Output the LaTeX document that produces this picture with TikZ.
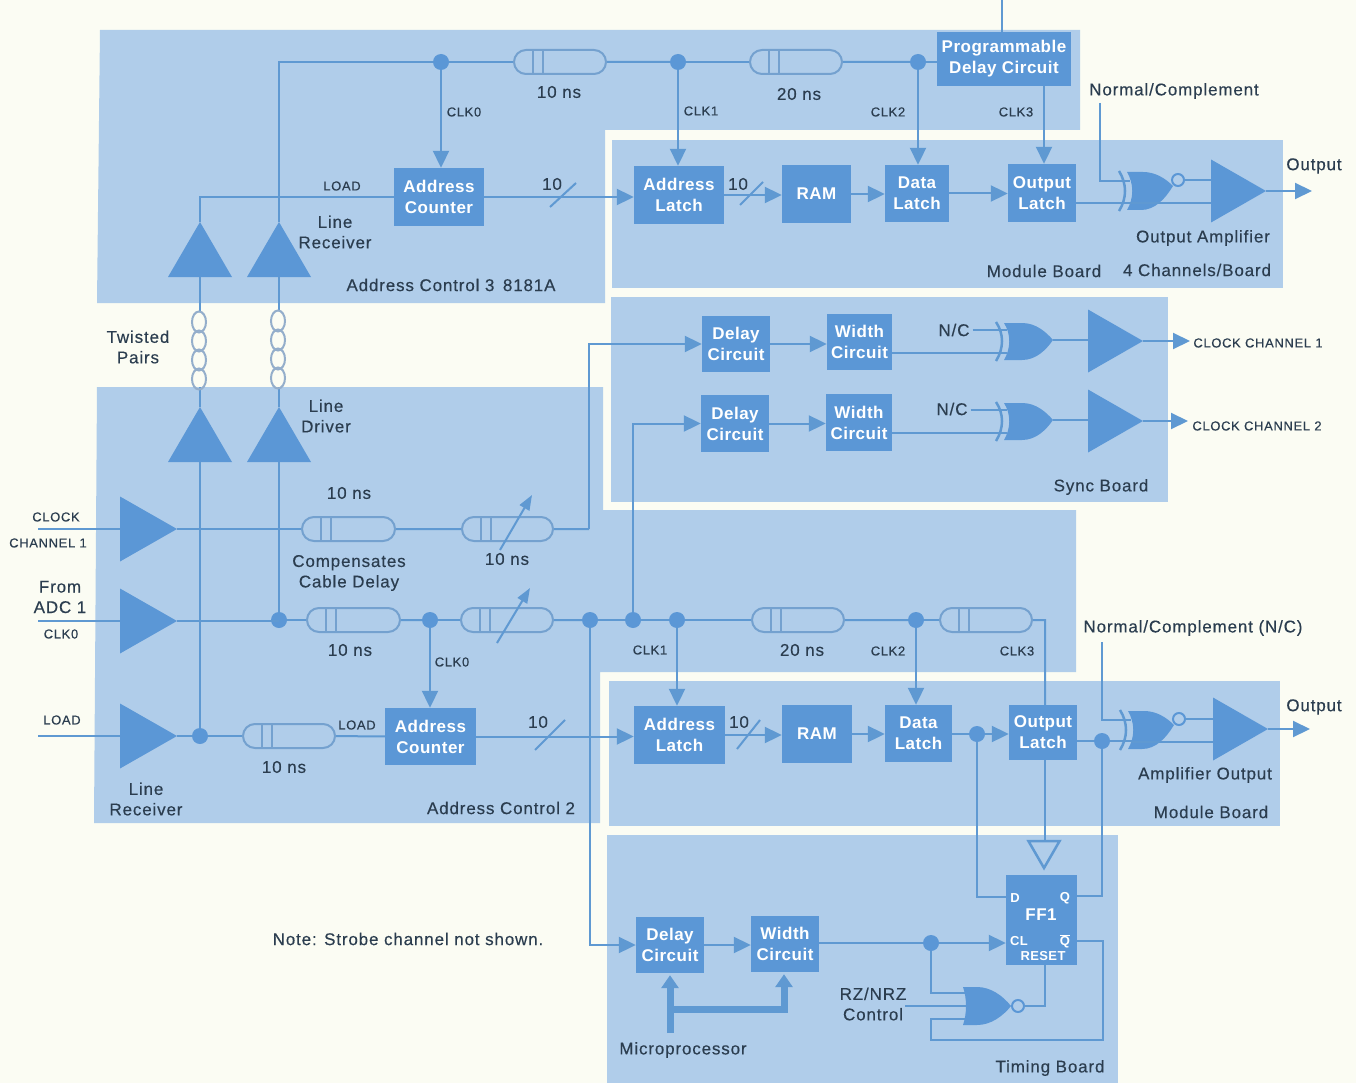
\documentclass[tikz,border=0pt]{standalone}
\usepackage{fontspec}
\setmainfont[LetterSpace=5,FakeBold=0.3,BoldFont={Liberation Sans Bold},BoldFeatures={LetterSpace=3,FakeBold=0}]{Liberation Sans}
\usetikzlibrary{arrows.meta,shapes.geometric,shapes.misc,calc}
\definecolor{paper}{HTML}{FBFCF3}
\definecolor{panel}{HTML}{B0CDEA}
\definecolor{dark}{HTML}{5B97D6}
\definecolor{wire}{HTML}{5F99D2}
\definecolor{capline}{HTML}{74A1CF}
\definecolor{twist}{HTML}{94AECB}
\definecolor{ink}{HTML}{2B3D4F}
\tikzset{
  conn/.style={draw=wire,line width=2pt},
  arr/.style={conn,-{Triangle[length=17pt,width=16pt]}},
  thickarr/.style={draw=wire,line width=7pt,-{Triangle[length=13pt,width=17pt]}},
  thickl/.style={draw=wire,line width=7pt},
  bluebox/.style={rectangle,fill=dark,text=white,inner sep=0pt,align=center,font=\fontsize{17}{21}\selectfont\bfseries},
  capsule/.style={rounded rectangle,draw=capline,line width=2pt,fill=panel,minimum height=24pt,inner sep=0pt},
  junc/.style={circle,fill=dark,inner sep=0pt,minimum size=16pt},
  ampr/.style={isosceles triangle,isosceles triangle stretches,fill=dark,inner sep=0pt,outer sep=0pt,minimum width=63pt,minimum height=55pt,anchor=apex},
  ampi/.style={ampr,minimum width=65pt,minimum height=57pt},
  ampu/.style={isosceles triangle,isosceles triangle stretches,fill=dark,inner sep=0pt,outer sep=0pt,shape border rotate=90,minimum width=64pt,minimum height=55pt,anchor=apex},
  lab/.style={text=ink,inner sep=0pt,align=center,font=\fontsize{17}{20.5}\selectfont},
  small/.style={text=ink,inner sep=0pt,align=center,font=\fontsize{13}{15}\selectfont},
  ffl/.style={text=white,inner sep=0pt,font=\fontsize{13}{15}\selectfont\bfseries},
  bubble/.style={draw=dark,line width=2pt,fill=panel}
}
\newcommand{\bx}[6]{\node[bluebox,minimum width={(#4-#2)*1pt},minimum height={(#5-#3)*1pt}] (#1) at ({(#2+#4)/2},{(#3+#5)/2}) {#6};}
\newcommand{\dly}[4]{\node[capsule,minimum width={(#3-#2)*1pt}] (#1) at ({(#2+#3)/2},#4) {};
  \draw[draw=capline,line width=2pt] ({#2+19},{#4-12}) -- ({#2+19},{#4+12}) ({#2+29},{#4-12}) -- ({#2+29},{#4+12});}
% XOR gate without bubble
\newcommand{\xorg}[3]{\begin{scope}[shift={(#2,#3)}]
  \fill[dark] (0,-18) -- (18,-18) .. controls (32,-18) and (42,-9) .. (49,-1) .. controls (42,9) and (32,19) .. (18,19) -- (0,19) .. controls (7,7) and (7,-7) .. (0,-18) -- cycle;
  \draw[wire,line width=2.5pt] (-8,-19) .. controls (0,-7) and (0,7) .. (-8,20);
  \coordinate (#1a) at (3,-11); \coordinate (#1b) at (3,12); \coordinate (#1o) at (49,-1);
\end{scope}}
% XNOR gate with bubble
\newcommand{\xnorg}[3]{\begin{scope}[shift={(#2,#3)}]
  \fill[dark] (0,-19) -- (16,-19) .. controls (28,-19) and (38,-13) .. (46,-5) .. controls (38,8) and (28,19) .. (14,19) -- (0,19) .. controls (7,7) and (7,-7) .. (0,-19) -- cycle;
  \draw[wire,line width=2.5pt] (-8,-20) .. controls (0,-7) and (0,7) .. (-8,20);
  \draw[bubble] (51,-11) circle (6);
  \coordinate (#1a) at (3,-10); \coordinate (#1b) at (3,12); \coordinate (#1o) at (57,-11);
\end{scope}}
% NOR gate with bubble
\newcommand{\norg}[3]{\begin{scope}[shift={(#2,#3)}]
  \fill[dark] (0,-19) -- (14,-19) .. controls (28,-19) and (40,-10) .. (48,0) .. controls (40,10) and (28,19) .. (14,19) -- (0,19) .. controls (4,7) and (4,-7) .. (0,-19) -- cycle;
  \draw[bubble] (55,0) circle (6);
  \coordinate (#1a) at (2,-13); \coordinate (#1b) at (3,0); \coordinate (#1c) at (2,13); \coordinate (#1o) at (61,0);
\end{scope}}
\begin{document}
\begin{tikzpicture}[x=1pt,y=-1pt]
\useasboundingbox (0,0) rectangle (1356,1083);
\fill[paper] (0,0) rectangle (1356,1083);
% panels
\fill[panel] (100,30) -- (1080,30) -- (1080,130) -- (605,130) -- (605,303) -- (97,303) -- cycle;
\fill[panel] (612,140) rectangle (1283,288);
\fill[panel] (611,297) rectangle (1168,502);
\fill[panel] (97,387) -- (603,387) -- (603,510) -- (1076,510) -- (1076,672) -- (600,672) -- (600,823) -- (94,823) -- cycle;
\fill[panel] (609,681) rectangle (1280,826);
\fill[panel] (607,835) rectangle (1118,1083);

% --- Address Control 3 + top module board ---
\coordinate (tbend) at (279,62);
\coordinate (ltop) at (1002,0);
\node[junc] (j1) at (441,62) {};
\node[junc] (j2) at (678,62) {};
\node[junc] (j3) at (918,62) {};
\dly{d1}{514}{606}{62}
\dly{d2}{750}{842}{62}
\bx{pdc}{937}{32}{1071}{86}{Programmable\\Delay Circuit}
\bx{ac3}{394}{168}{484}{226}{Address\\Counter}
\bx{al3}{634}{166}{724}{224}{Address\\Latch}
\bx{ram3}{782}{165}{851}{223}{RAM}
\bx{dl3}{885}{165}{949}{222}{Data\\Latch}
\bx{ol3}{1008}{164}{1076}{222}{Output\\Latch}
\node[ampu] (rL) at (200,222) {};
\node[ampu] (rR) at (279,222) {};
\node[ampu] (dL) at (200,407) {};
\node[ampu] (dR) at (279,407) {};
\node[ampr] (oa3) at (1266,191) {};
\xnorg{g3}{1127}{191}
\coordinate (out3) at (1312,191);
\coordinate (nc3) at (1100,103);
\draw[conn] (rR.apex) -- (tbend) -- (j1);
\draw[conn] (j1) -- (d1);
\draw[conn] (d1) -- (j2);
\draw[conn] (j2) -- (d2);
\draw[conn] (d2) -- (j3);
\draw[conn] (j3) -- (pdc.west |- j3);
\draw[conn] (ltop) -- (ltop |- pdc.north);
\draw[arr] (j1) -- (j1 |- ac3.north);
\draw[arr] (j2) -- (j2 |- al3.north);
\draw[arr] (j3) -- (j3 |- dl3.north);
\draw[arr] (pdc.south -| ol3.north) ++(2,0) -- ($(ol3.north)+(2,0)$);
\draw[conn] (rL.apex) |- (ac3.west);
\draw[arr] (ac3.east) -- (ac3.east -| al3.west);
\draw[conn] (550,207) -- (576,183);
\draw[arr] (al3.east) -- (al3.east -| ram3.west);
\draw[conn] (740,205) -- (763,182);
\draw[arr] (ram3.east) -- (ram3.east -| dl3.west);
\draw[arr] (dl3.east) -- (dl3.east -| ol3.west);
\draw[conn] (nc3) |- (g3a);
\draw[conn] ($(ol3.east)+(0,10)$) -- (g3b);
\draw[conn] (g3b) -- (g3b -| oa3.lower side);
\draw[conn] (g3o) -- (g3o -| oa3.lower side);
\draw[arr] (oa3.apex) -- (out3);

% --- twisted pairs ---
\draw[conn] (rL.lower side) -- ++(0,34);
\draw[conn] (rR.lower side) -- ++(0,34);
\draw[conn] (dL.apex) -- ++(0,-20);
\draw[conn] (dR.apex) -- ++(0,-20);
\foreach \yy in {322,341,360,379}{
  \draw[twist,line width=2pt] (199,\yy) ellipse (7 and 10.5);
  \draw[twist,line width=2pt] (278,{\yy-1}) ellipse (7 and 10.5);
}

% --- Sync board ---
\bx{sd1}{702}{316}{770}{372}{Delay\\Circuit}
\bx{sw1}{827}{314}{892}{370}{Width\\Circuit}
\bx{sd2}{701}{395}{769}{452}{Delay\\Circuit}
\bx{sw2}{826}{394}{892}{451}{Width\\Circuit}
\xorg{s1}{1004}{341}
\xorg{s2}{1004}{421}
\node[ampr] (sa1) at (1143,341) {};
\node[ampr] (sa2) at (1143,421) {};
\node[lab] (nc1) at (954,330) {N/C};
\node[lab] (nc2) at (952,409) {N/C};
\coordinate (so1) at (1190,341);
\coordinate (so2) at (1188,421);
\draw[arr] (sd1.east) -- (sd1.east -| sw1.west);
\draw[arr] (sd2.east) -- (sd2.east -| sw2.west);
\draw[conn] (nc1.east |- s1a) ++(3,0) -- (s1a);
\draw[conn] (nc2.east |- s2a) ++(3,0) -- (s2a);
\draw[conn] (sw1.east |- s1b) -- (s1b);
\draw[conn] (sw2.east |- s2b) -- (s2b);
\draw[conn] (s1o) -- (s1o -| sa1.lower side);
\draw[conn] (s2o) -- (s2o -| sa2.lower side);
\draw[arr] (sa1.apex) -- (so1);
\draw[arr] (sa2.apex) -- (so2);

% --- Address Control 2 ---
\coordinate (in1) at (38,529);
\coordinate (in2) at (38,621);
\coordinate (in3) at (38,736);
\node[ampi] (ia1) at (177,529) {};
\node[ampi] (ia2) at (177,621) {};
\node[ampi] (ia3) at (177,736) {};
\node[junc] (j5) at (279,620) {};
\node[junc] (j6) at (430,620) {};
\node[junc] (j7) at (590,620) {};
\node[junc] (j8) at (633,620) {};
\node[junc] (j9) at (677,620) {};
\node[junc] (j10) at (916,620) {};
\node[junc] (j11) at (200,736) {};
\dly{e1}{302}{395}{529}
\dly{e2}{462}{553}{529}
\dly{e3}{307}{400}{620}
\dly{e4}{461}{553}{620}
\dly{e5}{752}{844}{620}
\dly{e6}{940}{1032}{620}
\dly{e7}{243}{335}{736}
\bx{ac2}{385}{708}{476}{765}{Address\\Counter}
\bx{al2}{634}{706}{725}{764}{Address\\Latch}
\bx{ram2}{782}{705}{852}{763}{RAM}
\bx{dl2}{885}{705}{952}{762}{Data\\Latch}
\bx{ol2}{1009}{705}{1077}{760}{Output\\Latch}
\node[junc] (j12) at (977,734) {};
\node[junc] (j13) at (1102,741) {};
\node[ampr] (oa2) at (1268,729) {};
\xnorg{g2}{1128}{730}
\coordinate (out2) at (1310,729);
\coordinate (nc4) at (1102,642);
\coordinate (e2b) at (589,529);
\coordinate (e6b) at (1045,620);
\draw[conn] (in1) -- (in1 -| ia1.lower side);
\draw[conn] (in2) -- (in2 -| ia2.lower side);
\draw[conn] (in3) -- (in3 -| ia3.lower side);
\draw[conn] (ia1.apex) -- (e1);
\draw[conn] (e1) -- (e2);
\draw[conn] (e2) -- (e2b);
\draw[arr] (e2b) |- (sd1.west);
\draw[conn] (ia2.apex) -- (ia2.apex -| j5);
\draw[conn] (j5) -- (e3);
\draw[conn] (e3) -- (j6);
\draw[conn] (j6) -- (e4);
\draw[conn] (e4) -- (j7);
\draw[conn] (j7) -- (j8);
\draw[conn] (j8) -- (j9);
\draw[conn] (j9) -- (e5);
\draw[conn] (e5) -- (j10);
\draw[conn] (j10) -- (e6);
\draw[conn] (e6) -- (e6b) -- (e6b |- ol2.north);
\draw[arr] (j8) |- (sd2.west);
\draw[conn] (dL.lower side) -- (j11);
\draw[conn] (dR.lower side) -- (j5);
\draw[conn] (ia3.apex) -- (j11);
\draw[conn] (j11) -- (e7);
\draw[conn] (e7) -- (ac2);
\draw[arr] (j6) -- (j6 |- ac2.north);
\draw[arr] (ac2.east) -- (ac2.east -| al2.west);
\draw[conn] (535,750) -- (565,720);
\draw[arr] (al2.east) -- (al2.east -| ram2.west);
\draw[conn] (737,749) -- (760,720);
\draw[arr] (j9) -- (j9 |- al2.north);
\draw[arr] (j10) -- (j10 |- dl2.north);
\draw[arr] (ram2.east) -- (ram2.east -| dl2.west);
\draw[conn] (dl2.east |- j12) -- (j12);
\draw[arr] (j12) -- (j12 -| ol2.west);
\draw[conn] (ol2.east |- j13) -- (j13);
\draw[conn] (j13) -- (g2b |- j13) -- (g2b);
\draw[conn] (nc4) |- (g2a);
\draw[conn] (g2b) -- (g2b -| oa2.lower side);
\draw[conn] (g2o) -- (g2o -| oa2.lower side);
\draw[arr] (oa2.apex) -- (out2);
% variable delay arrows
\draw[draw=wire,line width=2pt,-{Triangle[length=15pt,width=11pt]}] (500,550) -- (532,495);
\draw[draw=wire,line width=2pt,-{Triangle[length=15pt,width=11pt]}] (497,643) -- (530,588);

% --- Timing board ---
\bx{td}{636}{917}{704}{973}{Delay\\Circuit}
\bx{tw}{751}{916}{819}{972}{Width\\Circuit}
\bx{ff}{1006}{875}{1077}{965}{}
\node[junc] (j14) at (931,943) {};
\norg{rz}{963}{1006}
\node[draw=wire,line width=2.5pt,regular polygon,regular polygon sides=3,shape border rotate=180,inner sep=0pt,minimum size=36pt,anchor=center] (buf) at (1044,850) {};
\coordinate (rzin) at (905,1006);
\coordinate (qr) at (1103,941);
\coordinate (qd) at (1103,1040);
\coordinate (ql) at (931,1040);
\coordinate (mic) at (670,1033);
\coordinate (micb) at (670,1009);
\coordinate (micc) at (784,1009);
\draw[arr] (j7) |- (td.west);
\draw[arr] (td.east) -- (td.east -| tw.west);
\draw[conn] (tw.east |- j14) -- (j14);
\draw[arr] (j14) -- (j14 -| ff.west);
\draw[conn] (ol2.south -| e6b) -- (buf.north -| e6b);
\draw[conn] (j12) |- ($(ff.west)+(0,-23)$);
\draw[conn] (j13) |- ($(ff.east)+(0,-24)$);
\draw[conn] ($(ff.east)+(0,21)$) -- (qr) -- (qd) -- (ql) |- (rzc);
\draw[conn] (j14) |- (rza);
\draw[conn] (rzin) -- (rzb);
\draw[conn] (rzo) -| (ff.south -| e6b);
\draw[thickarr] (mic) -- ($(mic |- td.south)+(0,2)$);
\draw[thickl] (micb) -- (micc);
\draw[thickarr] ($(micc)+(0,3.5)$) -- ($(micc |- tw.south)+(0,2)$);
% FF labels
\node[ffl] (ffd) at (1015,898) {D};
\node[ffl] (ffq) at (1065,898) {Q};
\node[text=white,inner sep=0pt,font=\fontsize{17}{20}\selectfont\bfseries] (ffn) at (1041,915) {FF1};
\node[ffl] (ffcl) at (1019,941) {CL};
\node[ffl] (ffqb) at (1065,941) {$\overline{\mbox{Q}}$};
\node[ffl] (ffr) at (1043,956) {RESET};

% --- labels ---
\node[lab] (l1) at (559,92) {10 ns};
\node[lab] (l2) at (799,94) {20 ns};
\node[small] (l3) at (464,112) {CLK0};
\node[small] (l4) at (701,111) {CLK1};
\node[small] (l5) at (888,112) {CLK2};
\node[small] (l6) at (1016,112) {CLK3};
\node[lab] (l7) at (1174,91) {Normal/Complement};
\node[lab] (l8) at (1314,166) {Output};
\node[lab] (l9) at (1203,238) {Output Amplifier};
\node[lab] (l10) at (1044,271) {Module Board};
\node[lab] (l11) at (1197,270) {4 Channels/Board};
\node[small] (l12) at (342,186) {LOAD};
\node[lab] (l13) at (552,184) {10};
\node[lab] (l14) at (738,184) {10};
\node[lab] (l15) at (335,232) {Line\\Receiver};
\node[lab] (l16) at (451,285) {Address Control 3\enspace 8181A};
\node[lab] (l17) at (138,347) {Twisted\\Pairs};
\node[lab] (l18) at (326,416) {Line\\Driver};
\node[small] (l19) at (1258,343) {CLOCK CHANNEL 1};
\node[small] (l20) at (1257,426) {CLOCK CHANNEL 2};
\node[lab] (l21) at (1101,487) {Sync Board};
\node[lab] (l22) at (349,493) {10 ns};
\node[lab] (l23) at (507,559) {10 ns};
\node[lab] (l24) at (349,573) {Compensates\\Cable Delay};
\node[small] (l25) at (56,517) {CLOCK};
\node[small] (l26) at (48,543) {CHANNEL 1};
\node[lab] (l27) at (60,597) {From\\ADC 1};
\node[small] (l28) at (61,634) {CLK0};
\node[lab] (l29) at (350,650) {10 ns};
\node[small] (l30) at (452,662) {CLK0};
\node[small] (l31) at (650,650) {CLK1};
\node[lab] (l32) at (802,650) {20 ns};
\node[small] (l33) at (888,651) {CLK2};
\node[small] (l34) at (1017,651) {CLK3};
\node[lab] (l35) at (1193,628) {Normal/Complement (N/C)};
\node[lab] (l36) at (1314,707) {Output};
\node[small] (l37) at (62,720) {LOAD};
\node[small] (l38) at (357,725) {LOAD};
\node[lab] (l39) at (538,722) {10};
\node[lab] (l40) at (739,722) {10};
\node[lab] (l41) at (284,767) {10 ns};
\node[lab] (l42) at (146,799) {Line\\Receiver};
\node[lab] (l43) at (501,808) {Address Control 2};
\node[lab] (l44) at (1205,775) {Amplifier Output};
\node[lab] (l45) at (1211,812) {Module Board};
\node[lab] (l46) at (408,939) {Note: Strobe channel not shown.};
\node[lab] (l47) at (873,1004) {RZ/NRZ\\Control};
\node[lab] (l48) at (683,1050) {Microprocessor};
\node[lab] (l49) at (1050,1068) {Timing Board};
\end{tikzpicture}
\end{document}
